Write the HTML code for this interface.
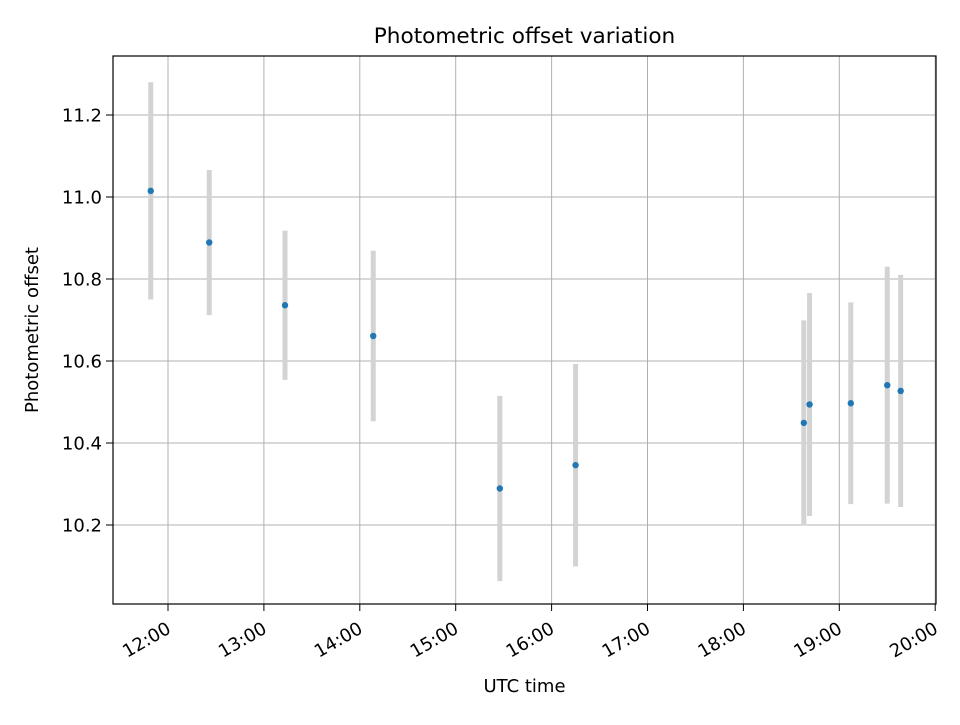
<!DOCTYPE html>
<html><head><meta charset="utf-8"><style>
body{margin:0;background:#fff;}
svg text{font-family:"DejaVu Sans","Liberation Sans",sans-serif;fill:#000;}
</style></head><body>
<svg id="chart" width="960" height="720" viewBox="0 0 960 720" xmlns="http://www.w3.org/2000/svg">
<rect width="960" height="720" fill="#fff"/>
<g id="grid"></g>
<g id="bars"></g>
<g id="pts"></g>
<rect x="113" y="56" width="823" height="548" fill="none" stroke="#000" stroke-width="1.2"/>
<g id="ticks"></g>
<text x="524.5" y="43" font-size="21.6" text-anchor="middle">Photometric offset variation</text>
<text x="524.5" y="692" font-size="18" text-anchor="middle">UTC time</text>
<text transform="translate(38,330) rotate(-90)" font-size="18" text-anchor="middle">Photometric offset</text>
</svg>
<script>
const times=[11.82,12.43,13.22,14.14,15.46,16.25,18.63,18.69,19.12,19.50,19.64];
const values=[11.015,10.889,10.736,10.661,10.289,10.346,10.449,10.494,10.497,10.541,10.527];
const errors=[0.265,0.177,0.182,0.208,0.226,0.247,0.25,0.272,0.246,0.289,0.283];
const yTicks=[10.2,10.4,10.6,10.8,11.0,11.2];
const xTickHours=[12,13,14,15,16,17,18,19,20];
const xTickLabels=["12:00","13:00","14:00","15:00","16:00","17:00","18:00","19:00","20:00"];
const NS="http://www.w3.org/2000/svg";
const X=h=>168+(h-12)*95.9;
const Y=v=>197-(v-11)*410;
function mk(tag,attrs,parent){const e=document.createElementNS(NS,tag);for(const k in attrs)e.setAttribute(k,attrs[k]);document.getElementById(parent).appendChild(e);return e;}
yTicks.forEach((t,i)=>{
  const y=Y(t);
  const g=mk("line",{x1:113,x2:936,y1:y,y2:y,stroke:"#b0b0b0","stroke-width":1},"grid");
  
  
  const tk=mk("line",{x1:106,x2:113,y1:y,y2:y,stroke:"#000","stroke-width":1},"ticks");
  
  
  const tx=mk("text",{x:102,y:y+6.5,"font-size":18,"text-anchor":"end"},"ticks");
  
  
  tx.textContent=t.toFixed(1);
});
xTickHours.forEach((h,i)=>{
  const x=X(h);
  const g=mk("line",{x1:x,x2:x,y1:56,y2:604,stroke:"#b0b0b0","stroke-width":1},"grid");
  
  
  const tk=mk("line",{x1:x,x2:x,y1:604,y2:611,stroke:"#000","stroke-width":1},"ticks");
  
  
  const tx=mk("text",{transform:`translate(${x+4},${632}) rotate(-30)`,"font-size":18,"text-anchor":"end"},"ticks");
  
  
  tx.textContent=xTickLabels[i];
});
times.forEach((t,i)=>{
  const x=X(t);
  const b=mk("line",{x1:x,x2:x,y1:Y(values[i]+errors[i]),y2:Y(values[i]-errors[i]),stroke:"#d3d3d3","stroke-width":5},"bars");
  
  
  const p=mk("circle",{cx:x,cy:Y(values[i]),r:3.2,fill:"#1f77b4"},"pts");
  
  
});
</script>
</body></html>
